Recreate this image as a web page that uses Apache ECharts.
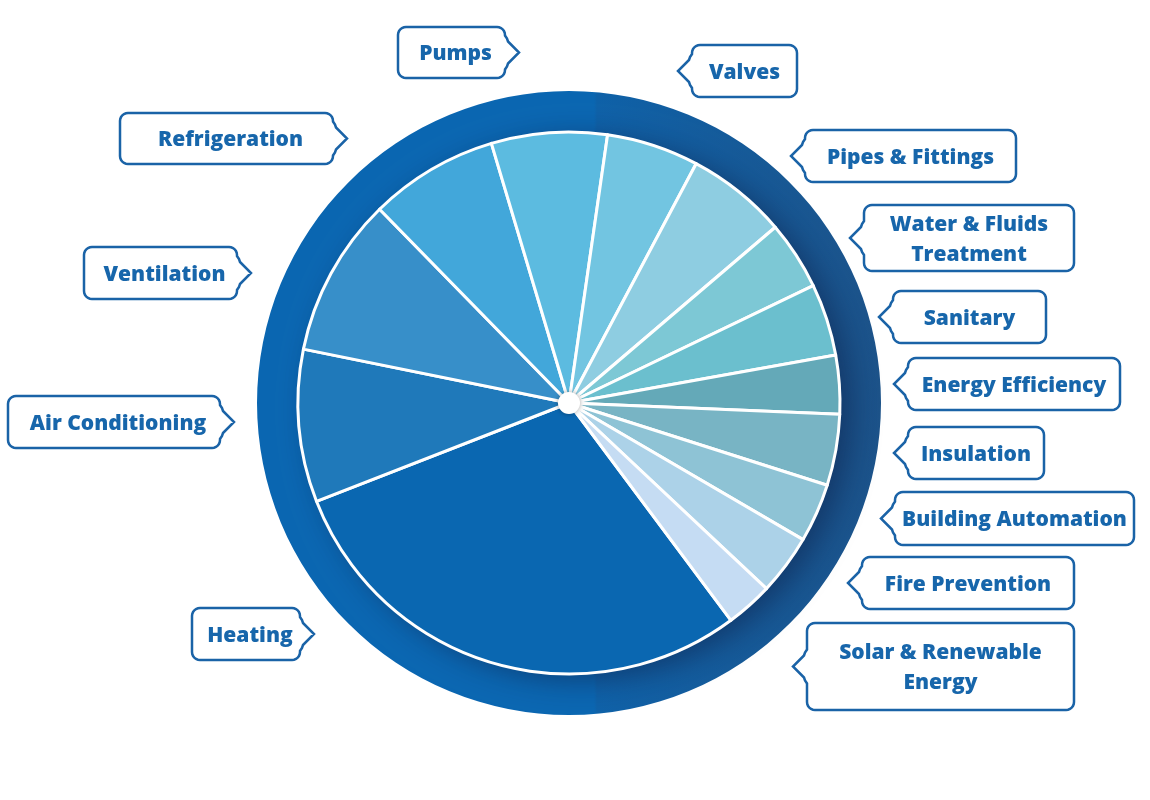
<!DOCTYPE html>
<html>
<head>
<meta charset="utf-8">
<script src="https://cdn.jsdelivr.net/npm/echarts@6/dist/echarts.min.js"></script>
<style>
  html, body { margin: 0; padding: 0; background: #fff; }
</style>
</head>
<body>
<div id="main" style="width: 1150px; height: 800px"></div>
<script>
// categories, clockwise from the lower right edge of Heating
const categories = [
  'Heating',
  'Air Conditioning',
  'Ventilation',
  'Refrigeration',
  'Pumps',
  'Valves',
  'Pipes & Fittings',
  'Water & Fluids Treatment',
  'Sanitary',
  'Energy Efficiency',
  'Insulation',
  'Building Automation',
  'Fire Prevention',
  'Solar & Renewable Energy'
];
// share of the pie (%)
const shares = [29.3, 9.1, 9.5, 7.7, 6.9, 5.5, 6.0, 4.1, 4.3, 3.5, 4.25, 3.5, 3.6, 2.8];

const sliceColors = [
  '#0a67b1', '#1f79ba', '#378fc9', '#42a7da', '#5cbbe0', '#72c5e1', '#8ecde1',
  '#7dc8d5', '#6bbfce', '#64a9b8', '#78b4c4', '#8ec3d5', '#acd2e8', '#c5dcf3'
];

// callout boxes: [left, top, width, height, arrow side]
const callouts = [
  [192, 608, 108, 52, 'r'],
  [8, 396, 212, 52, 'r'],
  [84, 247, 153, 52, 'r'],
  [120, 113, 213, 51, 'r'],
  [398, 27, 107, 51, 'r'],
  [692, 45, 105, 52, 'l'],
  [805, 130, 211, 52, 'l'],
  [864, 205, 210, 66, 'l'],
  [893, 291, 153, 52, 'l'],
  [908, 358, 212, 52, 'l'],
  [908, 427, 136, 52, 'l'],
  [895, 492, 239, 53, 'l'],
  [862, 557, 212, 52, 'l'],
  [807, 623, 267, 87, 'l']
];

const center = [569, 403];

function calloutPoints(b) {
  const [x, y, w, h, side] = b;
  const r = 8, cy = y + h / 2, pts = [];
  function arc(cx, cyy, a0, a1) {
    for (let i = 0; i <= 6; i++) {
      const a = (a0 + (a1 - a0) * i / 6) * Math.PI / 180;
      pts.push([cx + r * Math.cos(a), cyy + r * Math.sin(a)]);
    }
  }
  arc(x + r, y + r, 180, 270);
  arc(x + w - r, y + r, 270, 360);
  if (side === 'r') {
    const s = x + w;
    pts.push([s, cy - 17], [s + 2, cy - 14], [s + 3, cy - 11], [s + 14, cy],
             [s + 3, cy + 11], [s + 2, cy + 14], [s, cy + 17]);
  }
  arc(x + w - r, y + h - r, 0, 90);
  arc(x + r, y + h - r, 90, 180);
  if (side === 'l') {
    pts.push([x, cy + 17], [x - 2, cy + 14], [x - 3, cy + 11], [x - 14, cy],
             [x - 3, cy - 11], [x - 2, cy - 14], [x, cy - 17]);
  }
  return pts;
}

const breaks = {
  'Water & Fluids Treatment': 'Water & Fluids\nTreatment',
  'Solar & Renewable Energy': 'Solar & Renewable\nEnergy'
};

const myChart = echarts.init(document.getElementById('main'));
myChart.setOption({
  animation: false,
  graphic: callouts.map(b => ({
    type: 'polygon',
    silent: true,
    z: 0,
    shape: { points: calloutPoints(b) },
    style: { fill: '#fff', stroke: '#1a63a7', lineWidth: 2.5 }
  })),
  series: [
    {
      name: 'ring',
      type: 'pie',
      silent: true,
      z: 1,
      center: center,
      radius: [270, 312],
      label: { show: false },
      labelLine: { show: false },
      data: [{
        value: 1,
        itemStyle: {
          color: new echarts.graphic.LinearGradient(0, 0, 1, 0, [
            { offset: 0, color: '#0a66b1' },
            { offset: 0.54, color: '#0a66b1' },
            { offset: 0.545, color: '#0e61a8' },
            { offset: 1, color: '#1b5289' }
          ])
        }
      }]
    },
    {
      name: 'shade',
      type: 'pie',
      silent: true,
      z: 1,
      center: center,
      radius: [0, 270],
      label: { show: false },
      labelLine: { show: false },
      data: [{
        value: 1,
        itemStyle: {
          color: '#1a5088',
          shadowColor: 'rgba(12, 30, 70, 0.55)',
          shadowBlur: 30,
          shadowOffsetX: 12,
          shadowOffsetY: 6
        }
      }]
    },
    {
      name: 'Sectors',
      type: 'pie',
      z: 2,
      center: center,
      radius: [0, 271],
      startAngle: -53.3,
      clockwise: true,
      avoidLabelOverlap: false,
      emphasis: { scale: false },
      itemStyle: { borderColor: '#fff', borderWidth: 3 },
      label: {
        show: true,
        formatter: p => breaks[p.name] || p.name,
        fontFamily: 'Open Sans',
        fontWeight: 800,
        fontSize: 21,
        lineHeight: 30,
        color: '#1766ab'
      },
      labelLine: { show: false },
      labelLayout: p => {
        const b = callouts[p.dataIndex];
        const dx = b[4] === 'r' ? 4 : 0;
        return { x: b[0] + b[2] / 2 + dx, y: b[1] + b[3] / 2 + 2, align: 'center', verticalAlign: 'middle' };
      },
      data: categories.map((name, i) => ({
        name: name,
        value: shares[i],
        itemStyle: { color: sliceColors[i] }
      }))
    },
    {
      name: 'hub',
      type: 'pie',
      silent: true,
      z: 3,
      center: center,
      radius: [0, 11],
      label: { show: false },
      labelLine: { show: false },
      data: [{
        value: 1,
        itemStyle: { color: '#fff', shadowColor: 'rgba(0, 0, 0, 0.35)', shadowBlur: 5 }
      }]
    }
  ]
});
</script>
</body>
</html>
